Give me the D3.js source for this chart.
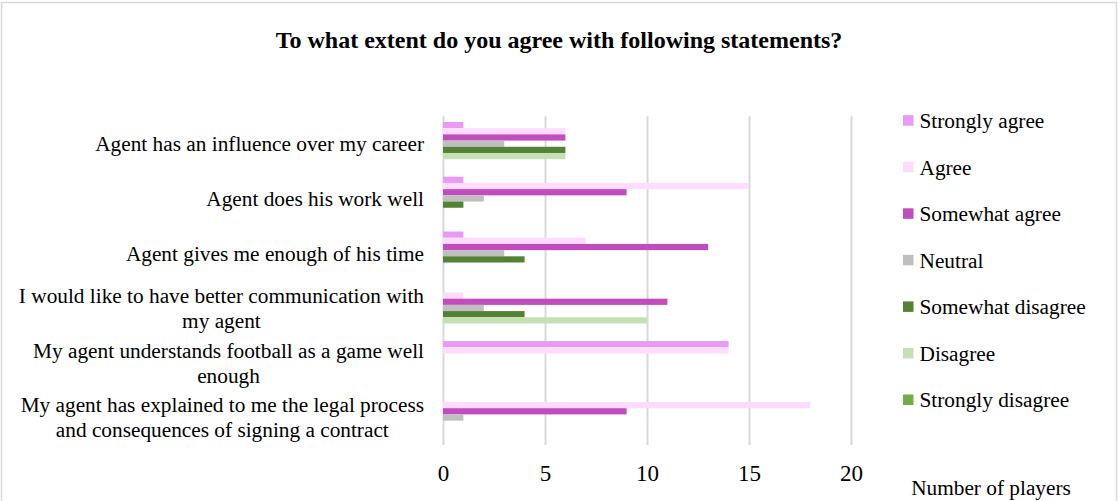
<!DOCTYPE html>
<html>
<head>
<meta charset="utf-8">
<script src="https://cdn.jsdelivr.net/npm/d3@7"></script>
<style>
  html, body { margin: 0; padding: 0; background: #fff; }
  svg { display: block; font-family: "Liberation Serif", "Times New Roman", serif; }
</style>
</head>
<body>
<svg id="chart" width="1118" height="501"></svg>
<script>
// Survey statements (top to bottom)
const categories = [
  ["Agent has an influence over my career"],
  ["Agent does his work well"],
  ["Agent gives me enough of his time"],
  ["I would like to have better communication with", "my agent"],
  ["My agent understands football as a game well", "enough"],
  ["My agent has explained to me the legal process", "and consequences of signing a contract"]
];
const categoryKeys = categories.map(c => c.join(" "));

// Answer options, in legend order
const seriesNames = ["Strongly agree", "Agree", "Somewhat agree", "Neutral",
                     "Somewhat disagree", "Disagree", "Strongly disagree"];
const seriesColors = ["#ea9af5", "#ffdcfd", "#c24bbd", "#bfbfbf",
                      "#548235", "#c5e0b4", "#70ad47"];

// Number of players per answer, one array per answer option (values per statement)
const stronglyAgree    = [1, 1, 1, 0, 14, 0];
const agree            = [6, 15, 7, 1, 14, 18];
const somewhatAgree    = [6, 9, 13, 11, 0, 9];
const neutral          = [3, 2, 3, 2, 0, 1];
const somewhatDisagree = [6, 1, 4, 4, 0, 0];
const disagree         = [6, 0, 0, 10, 0, 0];
const stronglyDisagree = [0, 0, 0, 0, 0, 0];
const seriesValues = [stronglyAgree, agree, somewhatAgree, neutral,
                      somewhatDisagree, disagree, stronglyDisagree];

const xTicks = [0, 5, 10, 15, 20];

const svg = d3.select("#chart");

// chart border
svg.append("rect")
  .attr("x", 1.5).attr("y", 2.5)
  .attr("width", 1115).attr("height", 520)
  .attr("fill", "#fff")
  .attr("stroke", "#d9d9d9").attr("stroke-width", 1.5);

// title
svg.append("text")
  .attr("x", 559).attr("y", 40).attr("dy", "0.35em")
  .attr("text-anchor", "middle")
  .attr("font-size", 24).attr("font-weight", "bold")
  .attr("fill", "#000")
  .text("To what extent do you agree with following statements?");

const plotTop = 116.3, plotBottom = 444.9;
const x = d3.scaleLinear().domain([0, 20]).range([443, 851]);
const y = d3.scaleBand().domain(categoryKeys)
  .range([plotTop, plotBottom]).paddingInner(0.208).paddingOuter(0.104);
const ySub = d3.scaleBand().domain(seriesNames).range([0, y.bandwidth()]);

// vertical gridlines
const grid = svg.append("g")
  .attr("transform", `translate(0,${plotTop})`)
  .call(d3.axisBottom(x).tickValues(xTicks).tickSize(plotBottom - plotTop).tickFormat(""));
grid.select(".domain").remove();
grid.selectAll(".tick line").attr("stroke", "#d9d9d9").attr("stroke-width", 2);

// tick labels
const axis = svg.append("g")
  .attr("transform", `translate(0,${plotBottom})`)
  .call(d3.axisBottom(x).tickValues(xTicks).tickSize(0).tickPadding(0));
axis.select(".domain").remove();
axis.selectAll(".tick text")
  .attr("y", 473.3 - plotBottom).attr("dy", "0.35em")
  .attr("font-family", "Liberation Serif, Times New Roman, serif")
  .attr("font-size", 23).attr("fill", "#000");

// axis title
svg.append("text")
  .attr("x", 991).attr("y", 488).attr("dy", "0.35em")
  .attr("text-anchor", "middle")
  .attr("font-size", 21.3).attr("fill", "#000")
  .text("Number of players");

// bars
const groups = svg.append("g").selectAll("g")
  .data(categoryKeys)
  .join("g")
  .attr("transform", d => `translate(0,${y(d)})`);

groups.selectAll("rect")
  .data((d, ci) => seriesNames.map((s, si) => ({ s, si, v: seriesValues[si][ci] })))
  .join("rect")
  .attr("x", x(0))
  .attr("y", d => ySub(d.s))
  .attr("width", d => x(d.v) - x(0))
  .attr("height", ySub.bandwidth())
  .attr("fill", d => seriesColors[d.si]);

// category labels: wrapped lines centred on one another, block right-aligned
const lineH = 25;
const labels = svg.append("g");
categories.forEach((lines, i) => {
  const cy = y(categoryKeys[i]) + y.bandwidth() / 2;
  const t = labels.append("text")
    .attr("font-size", 21.3).attr("fill", "#000")
    .attr("text-anchor", "middle");
  lines.forEach((ln, j) => {
    t.append("tspan")
      .attr("x", 0)
      .attr("y", cy + (j - (lines.length - 1) / 2) * lineH)
      .attr("dy", "0.35em")
      .text(ln);
  });
  const w = d3.max(t.selectAll("tspan").nodes(), n => n.getComputedTextLength());
  t.selectAll("tspan").attr("x", 424 - w / 2);
});

// legend
const legend = svg.append("g").selectAll("g")
  .data(seriesNames)
  .join("g")
  .attr("transform", (d, i) => `translate(903,${120.7 + i * 46.55})`);
legend.append("rect")
  .attr("x", 0).attr("y", -5.5)
  .attr("width", 10.5).attr("height", 10.5)
  .attr("fill", (d, i) => seriesColors[i]);
legend.append("text")
  .attr("x", 16.5).attr("y", 0).attr("dy", "0.35em")
  .attr("font-size", 21.3).attr("fill", "#000")
  .text(d => d);
</script>
</body>
</html>
